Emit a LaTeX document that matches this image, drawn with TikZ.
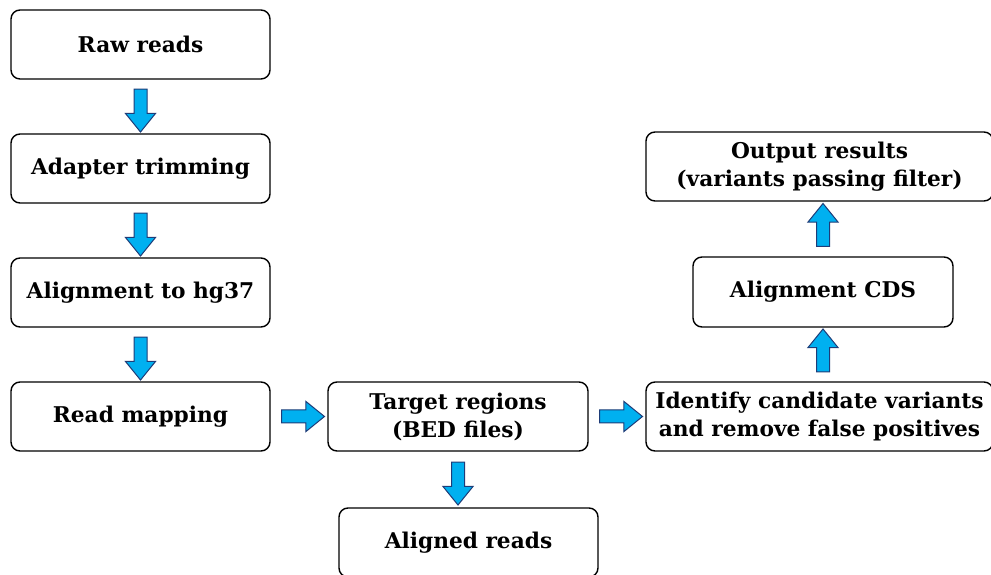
\documentclass[tikz,border=0pt]{standalone}
\usepackage{fontspec}
\setmainfont{DejaVu Serif}
\usetikzlibrary{shapes.arrows, calc, positioning}

\definecolor{arrowfill}{RGB}{0,176,240}
\definecolor{arrowline}{RGB}{30,60,120}

\tikzset{
  stepbox/.style={draw=black, line width=1.4pt, rounded corners=9pt, fill=white,
    align=center, inner sep=0pt, font=\fontsize{21.7}{28}\selectfont\bfseries},
  blockarr/.style={single arrow, draw=arrowline, fill=arrowfill, line width=1pt,
    inner xsep=0pt, inner ysep=6pt, minimum width=29pt, minimum height=43pt,
    single arrow head extend=8.5pt, single arrow tip angle=78}
}

\begin{document}
\begin{tikzpicture}
\begin{scope}[x=1pt,y=1pt]
  \useasboundingbox (0,0) rectangle (991,575);
  % left column
  \node[stepbox, minimum width=259pt, minimum height=69pt] (raw)   at (140.5,530.5) {Raw reads};
  \node[stepbox, minimum width=259pt, minimum height=69pt] (trim)  at (140.5,406.5) {Adapter trimming};
  \node[stepbox, minimum width=259pt, minimum height=69pt] (align) at (140.5,282.5) {Alignment to hg37};
  \node[stepbox, minimum width=259pt, minimum height=69pt] (map)   at (140.5,158.5) {Read mapping};
  % middle
  \node[stepbox, minimum width=260pt, minimum height=69pt] (target)  at (458,158.5) {Target regions\\(BED files)};
  \node[stepbox, minimum width=259pt, minimum height=69pt] (aligned) at (468.5,32.5) {Aligned reads};
  % right column
  \node[stepbox, minimum width=347pt, minimum height=69pt] (ident)  at (819.5,158.5) {Identify candidate variants\\and remove false positives};
  \node[stepbox, minimum width=260pt, minimum height=70pt] (cds)    at (823,283) {Alignment CDS};
  \node[stepbox, minimum width=347pt, minimum height=69pt] (output) at (819.5,408.5) {Output results\\(variants passing filter)};
  % block arrows
  \node[blockarr, rotate=-90] (a1) at ($(raw.south)!.5!(trim.north)$) {};
  \node[blockarr, rotate=-90] (a2) at ($(trim.south)!.5!(align.north)$) {};
  \node[blockarr, rotate=-90] (a3) at ($(align.south)!.5!(map.north)$) {};
  \node[blockarr] (a4) at ($(map.east)!.5!(target.west)$) {};
  \node[blockarr] (a5) at ($(target.east)!.5!(ident.west)$) {};
  \node[blockarr, rotate=-90] (a6) at ($(target.south)!.5!(target.south |- aligned.north)$) {};
  \node[blockarr, rotate=90] (a7) at ($(cds.south)!.5!(cds.south |- ident.north)$) {};
  \node[blockarr, rotate=90] (a8) at ($(cds.north)!.5!(output.south -| cds.north)$) {};
\end{scope}
\end{tikzpicture}
\end{document}
